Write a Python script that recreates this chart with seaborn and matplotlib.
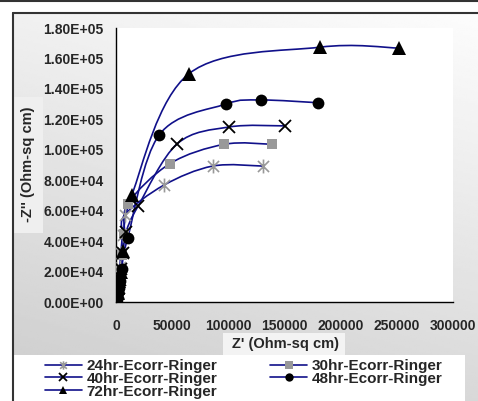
import numpy as np
import matplotlib
matplotlib.use("Agg")
import matplotlib.pyplot as plt
import seaborn as sns
from matplotlib.path import Path
from matplotlib.patches import PathPatch, Rectangle
from matplotlib.lines import Line2D
from matplotlib.ticker import MultipleLocator, FuncFormatter

sns.set_style("white")
plt.rcParams['font.family'] = ['Liberation Sans', 'DejaVu Sans']
plt.rcParams['font.weight'] = 'bold'

# Nyquist data (Z', -Z'')
labels = ["24hr-Ecorr-Ringer", "30hr-Ecorr-Ringer", "40hr-Ecorr-Ringer",
          "48hr-Ecorr-Ringer", "72hr-Ecorr-Ringer"]

z_re_24 = [200, 400, 700, 1000, 1400, 1900, 2500, 3300, 4300, 5800, 8000, 42700, 86000, 130600]
z_im_24 = [300, 900, 2000, 3800, 6500, 10500, 16000, 23000, 32000, 44000, 57400, 76800, 89300, 89300]

z_re_30 = [200, 400, 700, 1100, 1600, 2200, 3000, 4000, 5500, 7500, 10700, 48000, 96400, 138900]
z_im_30 = [300, 800, 1800, 3500, 6000, 9500, 14500, 21000, 31000, 45000, 64700, 90900, 103600, 103600]

z_re_40 = [200, 400, 700, 1100, 1600, 2300, 3200, 4500, 6200, 9000, 19600, 54600, 100900, 150400]
z_im_40 = [300, 800, 1800, 3500, 6000, 9500, 14500, 21500, 32000, 46000, 62900, 104000, 115000, 115700]

z_re_48 = [200, 400, 700, 1100, 1600, 2300, 3600, 5000, 10400, 38300, 97600, 128800, 180000]
z_im_48 = [300, 800, 1800, 3500, 6000, 9000, 13900, 21800, 42000, 109600, 130000, 132700, 130900]

z_re_72 = [200, 400, 700, 1100, 1600, 2200, 3000, 4200, 6000, 14000, 65000, 181600, 252000]
z_im_72 = [300, 800, 1800, 3500, 6000, 9500, 14000, 20000, 33200, 70000, 150000, 167400, 166800]

series_x = [z_re_24, z_re_30, z_re_40, z_re_48, z_re_72]
series_y = [z_im_24, z_im_30, z_im_40, z_im_48, z_im_72]

# asterisk marker like excel (x + vertical bar)
ast = Path([(-1, -1), (1, 1), (-1, 1), (1, -1), (0, -1.25), (0, 1.25)],
           [Path.MOVETO, Path.LINETO, Path.MOVETO, Path.LINETO, Path.MOVETO, Path.LINETO])

styles = [
    dict(marker=ast, markersize=10, color='#999999', markeredgecolor='#999999', markeredgewidth=1.2),
    dict(marker='s', markersize=7.5, color='#999999', markeredgecolor='#999999', markeredgewidth=0),
    dict(marker='x', markersize=8.5, color='black', markeredgecolor='black', markeredgewidth=1.3),
    dict(marker='o', markersize=8.5, color='black', markeredgecolor='black', markeredgewidth=0),
    dict(marker='^', markersize=10, color='black', markeredgecolor='black', markeredgewidth=0),
]
line_col = '#10108a'


def smooth_path(x, y):
    # excel-like smoothed line (catmull-rom bezier through the points)
    pts = np.column_stack([x, y]).astype(float)
    verts = [pts[0]]
    codes = [Path.MOVETO]
    n = len(pts)
    for i in range(n - 1):
        p0 = pts[max(i - 1, 0)]
        p1 = pts[i]
        p2 = pts[i + 1]
        p3 = pts[min(i + 2, n - 1)]
        c1 = p1 + (p2 - p0) / 6.0
        c2 = p2 - (p3 - p1) / 6.0
        verts += [c1, c2, p2]
        codes += [Path.CURVE4] * 3
    return Path(verts, codes)


W, H = 478, 401
fig = plt.figure(figsize=(W / 100, H / 100), dpi=100)

# gradient background of the chart area
bg = fig.add_axes([13 / W, 0, 1 - 13 / W, 1 - 13 / H], zorder=-5)
u = np.linspace(0, 1, 200)
v = np.linspace(0, 1, 200)
U, V = np.meshgrid(u, v)
t = 0.75 * V + 0.25 * U
bg.imshow(0.80 + 0.19 * t, cmap='gray', vmin=0, vmax=1, origin='lower',
          extent=[0, 1, 0, 1], aspect='auto')
bg.set_axis_off()

# frame lines
fig.add_artist(Line2D([0, 1], [1 - 1 / H, 1 - 1 / H], color='#333333', lw=1.5))
fig.add_artist(Line2D([13 / W, 1], [1 - 13 / H, 1 - 13 / H], color='#333333', lw=1.5))
fig.add_artist(Line2D([13 / W, 13 / W], [0, 1 - 13 / H], color='#333333', lw=1.5))

# label boxes and legend box
fig.add_artist(Rectangle((14 / W, 1 - 233 / H), 29 / W, 136 / H, transform=fig.transFigure,
                         facecolor='#efefef', edgecolor='none', zorder=-1))
fig.add_artist(Rectangle((223 / W, 1 - 355 / H), 122 / W, 22 / H, transform=fig.transFigure,
                         facecolor='#f3f3f3', edgecolor='none', zorder=-1))
fig.add_artist(Rectangle((14 / W, 0), 451 / W, 46 / H, transform=fig.transFigure,
                         facecolor='white', edgecolor='none', zorder=-1))

ax = fig.add_axes([116 / W, 1 - 302 / H, 337 / W, 274 / H])
ax.set_facecolor('white')

for xs, ys, st in zip(series_x, series_y, styles):
    ax.add_patch(PathPatch(smooth_path(xs, ys), facecolor='none', edgecolor=line_col,
                           lw=1.2, zorder=2))
    sns.lineplot(x=xs, y=ys, ax=ax, sort=False, linestyle='', zorder=3, **st)

ax.set_xlim(0, 300000)
ax.set_ylim(0, 180000)
ax.xaxis.set_major_locator(MultipleLocator(50000))
ax.xaxis.set_minor_locator(MultipleLocator(10000))
ax.yaxis.set_major_locator(MultipleLocator(20000))
ax.yaxis.set_minor_locator(MultipleLocator(4000))
ax.yaxis.set_major_formatter(FuncFormatter(lambda val, pos: '{:.2E}'.format(val)))
ax.xaxis.set_major_formatter(FuncFormatter(lambda val, pos: '{:d}'.format(int(val))))
ax.tick_params(axis='x', which='both', direction='in', length=3, width=1, color='black',
               labelsize=10, pad=12)
ax.tick_params(axis='y', which='both', direction='out', length=3, width=1, color='black',
               labelsize=10, pad=6)
for lab in ax.get_xticklabels() + ax.get_yticklabels():
    lab.set_fontweight('bold')
for side in ['top', 'right']:
    ax.spines[side].set_visible(False)
for side in ['left', 'bottom']:
    ax.spines[side].set_color('black')
    ax.spines[side].set_linewidth(1)
ax.set_xlabel('')
ax.set_ylabel('')

fig.text(285 / W, 1 - 344 / H, "Z' (Ohm-sq cm)", ha='center', va='center',
         fontsize=10.5, fontweight='bold')
fig.text(28 / W, 1 - 164 / H, "-Z'' (Ohm-sq cm)", ha='center', va='center',
         rotation=90, fontsize=10.5, fontweight='bold')

handles = [Line2D([], [], color=line_col, lw=1.2, **{k: v for k, v in st.items() if k != 'color'},
                  markerfacecolor=st['color']) for st in styles]
order = [0, 2, 4, 1, 3]
leg = fig.legend([handles[i] for i in order], [labels[i] for i in order],
                 loc='upper left', bbox_to_anchor=(45 / W, 1 - 359 / H), ncol=2,
                 frameon=False, handlelength=2.4, handletextpad=0.33,
                 labelspacing=-0.08, columnspacing=3.45, borderpad=0, borderaxespad=0,
                 prop={'weight': 'bold', 'size': 11})
for h in leg.legend_handles:
    h.set_markersize(6)

fig.savefig('out.png', dpi=100)
